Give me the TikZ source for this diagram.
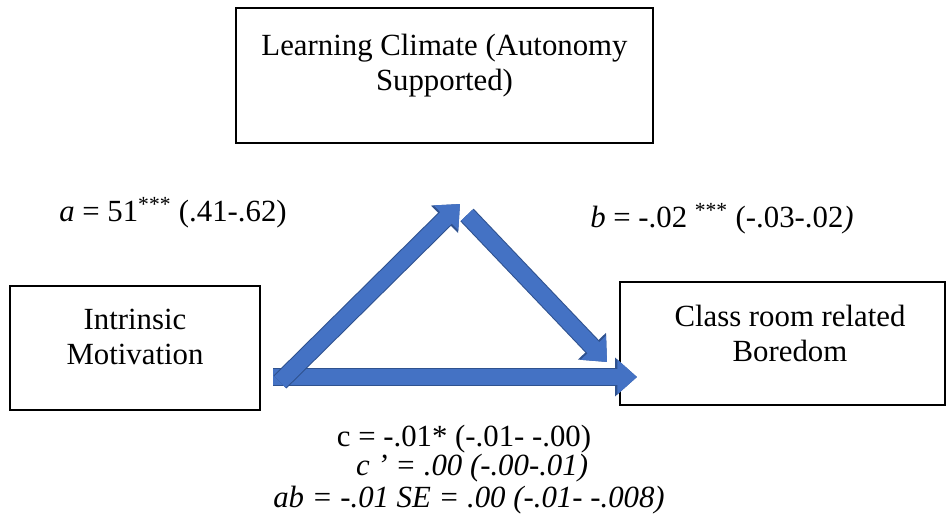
\documentclass[tikz,border=0pt]{standalone}
\usepackage{fontspec}
\setmainfont{LiberationSerif}[Extension=.ttf,UprightFont=*-Regular,ItalicFont=*-Italic,BoldFont=*-Bold,BoldItalicFont=*-BoldItalic]
\usetikzlibrary{arrows.meta}
\usetikzlibrary{positioning}
\definecolor{arrowfill}{HTML}{4472C4}
\definecolor{arrowedge}{HTML}{2F528F}
\newcommand\diagfont{\fontsize{21.9}{24.9}\selectfont}

\begin{document}
\begin{tikzpicture}[x=0.025cm,y=-0.025cm,
	varbox/.style={rectangle,draw,line width=2pt,inner sep=0pt},
	boxtext/.style={align=center,font=\diagfont},
	lab/.style={anchor=base,font=\diagfont},
	flow/.style={line width=11.5pt,draw=arrowfill,-{Triangle[width=24pt,length=14pt]},
		preaction={draw=arrowedge,line width=13pt,-{Triangle[width=26.5pt,length=15.5pt]}}}]
	\useasboundingbox (0,0) rectangle (947,517);

	% boxes
	\node [varbox,minimum width=10.425cm,minimum height=3.375cm] (climate) at (444.5,75.5) {};
	\node [boxtext] (climatetxt) at (444.5,66) {Learning Climate (Autonomy\\Supported)};
	\node [varbox,minimum width=6.25cm,minimum height=3.1cm] (intrinsic) at (135,348) {};
	\node [boxtext] (intrinsictxt) at (135,337) {Intrinsic\\Motivation};
	\node [varbox,minimum width=8.125cm,minimum height=3.075cm] (boredom) at (782.5,343.5) {};
	\node [boxtext] (boredomtxt) at (790,333) {Class room related\\Boredom};

	% arrow ends
	\coordinate (ctail) at (273,377);
	\coordinate (ctip) at (637,377);
	\coordinate (atail) at (280,382);
	\coordinate (atip) at (460,204);
	\coordinate (btail) at (467,215);
	\coordinate (btip) at (607,362);

	\draw [flow] (ctail) -- (ctip);
	\draw [flow] (atail) -- (atip);
	\draw [flow] (btail) -- (btip);

	% path labels
	\node [lab] (alab) at (173,222) {\textit{a} = 51\textsuperscript{***} (.41-.62)};
	\node [lab] (blab) at (722,228) {\textit{b} = -.02 \textsuperscript{***} (-.03-.02\textit{)}};
	\node [lab] (clab) at (464,447) {c = -.01* (-.01- -.00)};
	\node [lab] (cplab) at (472,475) {\textit{c ’ = .00 (-.00-.01)}};
	\node [lab] (ablab) at (469,507) {\textit{ab = -.01 SE = .00 (-.01- -.008)}};
\end{tikzpicture}
\end{document}
